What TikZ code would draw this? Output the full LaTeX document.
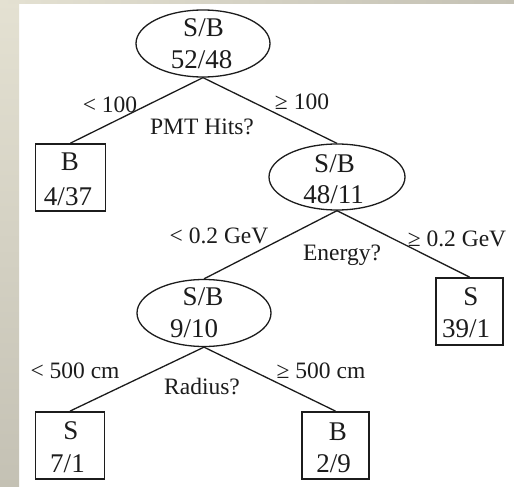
\documentclass[tikz,border=0pt]{standalone}
\usepackage{fontspec}
\setmainfont{Liberation Serif}
\usetikzlibrary{shapes.geometric}
\definecolor{inkc}{HTML}{1C1C1C}
\definecolor{frameA}{HTML}{E4E1D2}
\definecolor{frameB}{HTML}{C4C1B4}
\begin{document}
\begin{tikzpicture}[x=1pt,y=-1pt,
  split/.style={ellipse, draw=inkc, line width=1.3pt, inner sep=0pt,
                minimum width=134pt, minimum height=67pt},
  leaf/.style={rectangle, draw=inkc, line width=1.8pt, inner sep=0pt,
               minimum width=68pt, minimum height=67pt},
  txt/.style={anchor=base, inner sep=0pt, text=inkc,
              font=\fontsize{27}{32}\selectfont},
  lbl/.style={anchor=base, inner sep=0pt, text=inkc,
              font=\fontsize{23.5}{28}\selectfont},
  branch/.style={draw=inkc, line width=1.3pt}]

% page and slide frame
\useasboundingbox (0,0) rectangle (514,487);
\fill[white] (0,0) rectangle (514,487);
\shade[top color=frameA, bottom color=frameB] (0,0) rectangle (19,487);
\shade[left color=frameA, right color=frameB] (0,0) rectangle (514,3.3);

% decision nodes
\node[split, minimum width=134pt] (root) at (203,43.5) {};
\node[split, minimum width=136pt, minimum height=66pt] (hits) at (337,177) {};
\node[split] (energy) at (204,313) {};

% leaves
\node[leaf, minimum width=70pt] (leafA) at (70.5,177.5) {};
\node[leaf, minimum width=67pt] (leafB) at (469.5,311.5) {};
\node[leaf, minimum width=69pt] (leafC) at (70,445.5) {};
\node[leaf, minimum width=67pt] (leafD) at (335.5,445.5) {};

% branches
\draw[branch] (root.south) -- (leafA.north);
\draw[branch] (root.south) -- (hits.north);
\draw[branch] (hits.south) -- (energy.north);
\draw[branch] (hits.south) -- (leafB.north);
\draw[branch] (energy.south) -- (leafC.north);
\draw[branch] (energy.south) -- (leafD.north);

% node contents
\node[txt] (rootT) at (203.5,37) {S/B};
\node[txt] (rootN) at (201.5,68) {52/48};
\node[txt] (hitsT) at (334.5,172) {S/B};
\node[txt] (hitsN) at (333.5,203) {48/11};
\node[txt] (energyT) at (203,305) {S/B};
\node[txt] (energyN) at (194,337) {9/10};
\node[txt] (leafAT) at (70,170) {B};
\node[txt] (leafAN) at (68,205) {4/37};
\node[txt] (leafBT) at (471,305) {S};
\node[txt] (leafBN) at (466,337) {39/1};
\node[txt] (leafCT) at (71,439) {S};
\node[txt] (leafCN) at (67.5,472) {7/1};
\node[txt] (leafDT) at (338,440) {B};
\node[txt] (leafDN) at (333.5,472) {2/9};

% cut labels
\node[lbl] (cutA) at (110,112) {< 100};
\node[lbl] (qA) at (202,134) {PMT Hits?};
\node[lbl] (cutB) at (302,110) {≥ 100};
\node[lbl] (cutC) at (219,243) {< 0.2 GeV};
\node[lbl] (qB) at (342,260) {Energy?};
\node[lbl] (cutD) at (457,246) {≥ 0.2 GeV};
\node[lbl] (cutE) at (75,378) {< 500 cm};
\node[lbl] (qC) at (202,394) {Radius?};
\node[lbl] (cutF) at (321,378) {≥ 500 cm};
\end{tikzpicture}
\end{document}
